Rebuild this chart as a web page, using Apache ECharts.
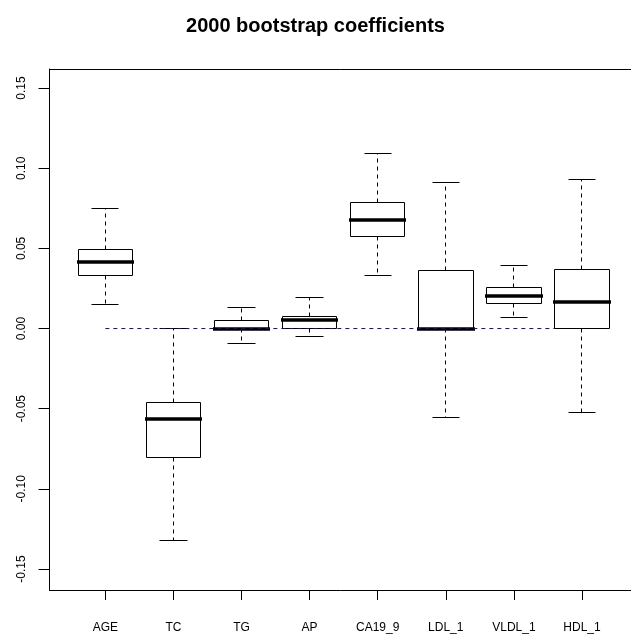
<!DOCTYPE html>
<html>
<head>
<meta charset="utf-8">
<script src="https://cdn.jsdelivr.net/npm/echarts@6/dist/echarts.min.js"></script>
<style>html,body{margin:0;padding:0;background:#fff}#c{width:631px;height:635px}</style>
</head>
<body>
<div id="c"></div>
<script>
// ---- data ----
var categories   = ['AGE', 'TC', 'TG', 'AP', 'CA19_9', 'LDL_1', 'VLDL_1', 'HDL_1'];
var lowWhisker   = [0.0151, -0.1321, -0.0092, -0.0047, 0.0331, -0.0557, 0.0068, -0.0526];
var q1Values     = [0.0332, -0.0802, 0.0000, 0.0000, 0.0576, 0.0000, 0.0157, 0.0000];
var medianValues = [0.0412, -0.0567, 0.0000, 0.0055, 0.0678, 0.0000, 0.0202, 0.0165];
var q3Values     = [0.0493, -0.0460, 0.0051, 0.0076, 0.0788, 0.0360, 0.0255, 0.0369];
var highWhisker  = [0.0750, 0.0000, 0.0132, 0.0192, 0.1095, 0.0912, 0.0394, 0.0929];
var yTickValues  = [-0.15, -0.10, -0.05, 0.00, 0.05, 0.10, 0.15];
var yTickLabels  = ['-0.15', '-0.10', '-0.05', '0.00', '0.05', '0.10', '0.15'];
var zeroLineX    = [1, 7.6];
var titleText    = '2000 bootstrap coefficients';

var positions = categories.map(function (c, i) { return i + 1; });
var boxData = categories.map(function (c, i) {
  return [positions[i], lowWhisker[i], q1Values[i], medianValues[i], q3Values[i], highWhisker[i]];
});

var FONT = '"Liberation Sans", Arial, sans-serif';
var chart = echarts.init(document.getElementById('c'), null, {renderer: 'canvas'});

function px(v) { return Math.round(v - 0.5) + 0.5; }

function renderBox(params, api) {
  var x = api.value(0);
  var lo = api.coord([x, api.value(1)]);
  var q1 = api.coord([x, api.value(2)]);
  var md = api.coord([x, api.value(3)]);
  var q3 = api.coord([x, api.value(4)]);
  var hi = api.coord([x, api.value(5)]);
  var bw = api.size([0.8, 0])[0];
  var cw = api.size([0.4, 0])[0];
  var cx = px(lo[0]);
  var bl = px(lo[0] - bw / 2), br = px(lo[0] + bw / 2);
  var cl = px(lo[0] - cw / 2), cr = px(lo[0] + cw / 2);
  var dashed = {stroke: '#000', lineWidth: 1, lineDash: [4, 4], fill: null};
  var solid = {stroke: '#000', lineWidth: 1, fill: null};
  return {
    type: 'group',
    children: [
      {type: 'line', shape: {x1: cx, y1: px(q3[1]), x2: cx, y2: px(hi[1])}, style: dashed},
      {type: 'line', shape: {x1: cx, y1: px(q1[1]), x2: cx, y2: px(lo[1])}, style: dashed},
      {type: 'line', shape: {x1: cl, y1: px(hi[1]), x2: cr, y2: px(hi[1])}, style: solid},
      {type: 'line', shape: {x1: cl, y1: px(lo[1]), x2: cr, y2: px(lo[1])}, style: solid},
      {type: 'rect', shape: {x: bl, y: px(q3[1]), width: br - bl, height: px(q1[1]) - px(q3[1])},
        style: {stroke: '#000', lineWidth: 1, fill: '#fff'}},
      {type: 'line', shape: {x1: bl - 1.5, y1: Math.round(md[1]), x2: br + 1.5, y2: Math.round(md[1])},
        style: {stroke: '#000', lineWidth: 3.5}}
    ]
  };
}

var option = {
  backgroundColor: '#fff',
  animation: false,
  title: {
    text: titleText,
    left: 'center',
    top: 11,
    textStyle: {fontFamily: FONT, fontWeight: 'bold', fontSize: 20, color: '#000'}
  },
  grid: {left: 49.5, right: 0, top: 69, bottom: 45, containLabel: false},
  xAxis: [{
    type: 'value',
    min: 0.18, max: 8.72,
    position: 'bottom',
    axisLine: {show: true, onZero: false, lineStyle: {color: '#000', width: 1}},
    axisTick: {show: true, length: 10, customValues: positions, lineStyle: {color: '#000'}},
    axisLabel: {
      show: true, margin: 32, customValues: positions, color: '#000',
      fontFamily: FONT, fontSize: 12,
      formatter: function (v) { return categories[Math.round(v) - 1] || ''; }
    },
    splitLine: {show: false}
  }, {
    type: 'value',
    min: 0.18, max: 8.72,
    position: 'top',
    axisLine: {show: true, onZero: false, lineStyle: {color: '#000', width: 1}},
    axisTick: {show: false}, axisLabel: {show: false}, splitLine: {show: false}
  }],
  yAxis: {
    type: 'value',
    min: -0.1631, max: 0.1619,
    axisLine: {show: true, onZero: false, lineStyle: {color: '#000', width: 1}},
    axisTick: {show: true, length: 11, customValues: yTickValues, lineStyle: {color: '#000'}},
    axisLabel: {
      show: true, rotate: 90, margin: 22, customValues: yTickValues, color: '#000',
      fontFamily: FONT, fontSize: 12,
      formatter: function (v) {
        var i = yTickValues.findIndex(function (t) { return Math.abs(t - v) < 1e-9; });
        return i >= 0 ? yTickLabels[i] : '';
      }
    },
    splitLine: {show: false}
  },
  series: [{
    type: 'custom',
    xAxisIndex: 0,
    renderItem: renderBox,
    data: boxData,
    z: 2
  }, {
    type: 'line',
    xAxisIndex: 0,
    data: [[zeroLineX[0], 0], [zeroLineX[1], 0]],
    symbol: 'none',
    lineStyle: {color: '#141450', width: 1, type: [4, 4]},
    z: 5,
    silent: true
  }]
};
chart.setOption(option);
</script>
</body>
</html>
